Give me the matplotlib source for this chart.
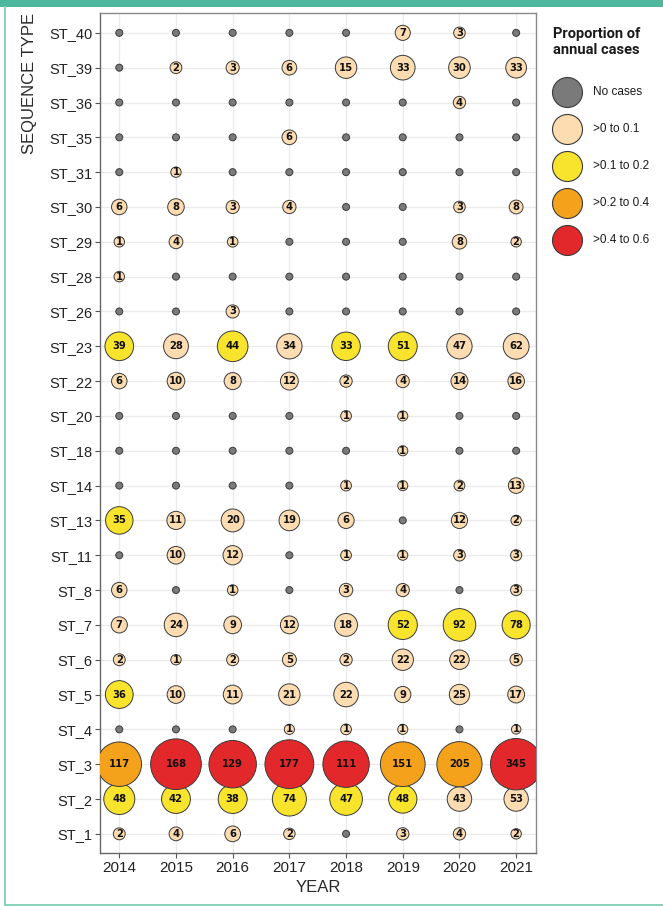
import numpy as np
import matplotlib
matplotlib.use("Agg")
import matplotlib.pyplot as plt

years = [2014, 2015, 2016, 2017, 2018, 2019, 2020, 2021]
seq_types = ["ST_40", "ST_39", "ST_36", "ST_35", "ST_31", "ST_30", "ST_29", "ST_28",
             "ST_26", "ST_23", "ST_22", "ST_20", "ST_18", "ST_14", "ST_13", "ST_11",
             "ST_8", "ST_7", "ST_6", "ST_5", "ST_4", "ST_3", "ST_2", "ST_1"]

# cases per sequence type (rows) and year (columns)
counts = [
    [0, 0, 0, 0, 0, 7, 3, 0],
    [0, 2, 3, 6, 15, 33, 30, 33],
    [0, 0, 0, 0, 0, 0, 4, 0],
    [0, 0, 0, 6, 0, 0, 0, 0],
    [0, 1, 0, 0, 0, 0, 0, 0],
    [6, 8, 3, 4, 0, 0, 3, 8],
    [1, 4, 1, 0, 0, 0, 8, 2],
    [1, 0, 0, 0, 0, 0, 0, 0],
    [0, 0, 3, 0, 0, 0, 0, 0],
    [39, 28, 44, 34, 33, 51, 47, 62],
    [6, 10, 8, 12, 2, 4, 14, 16],
    [0, 0, 0, 0, 1, 1, 0, 0],
    [0, 0, 0, 0, 0, 1, 0, 0],
    [0, 0, 0, 0, 1, 1, 2, 13],
    [35, 11, 20, 19, 6, 0, 12, 2],
    [0, 10, 12, 0, 1, 1, 3, 3],
    [6, 0, 1, 0, 3, 4, 0, 3],
    [7, 24, 9, 12, 18, 52, 92, 78],
    [2, 1, 2, 5, 2, 22, 22, 5],
    [36, 10, 11, 21, 22, 9, 25, 17],
    [0, 0, 0, 1, 1, 1, 0, 1],
    [117, 168, 129, 177, 111, 151, 205, 345],
    [48, 42, 38, 74, 47, 48, 43, 53],
    [2, 4, 6, 2, 0, 3, 4, 2],
]

# annual totals (column sums, 2017 slightly higher: a few cases outside listed STs, estimated)
annual_totals = [306, 323, 290, 372, 263, 389, 517, 643]

class_labels = ["No cases", ">0 to 0.1", ">0.1 to 0.2", ">0.2 to 0.4", ">0.4 to 0.6"]
class_edges = [0, 0.1, 0.2, 0.4]
class_colors = ["#7a7a7a", "#fcdcb0", "#f8e42c", "#f4a21c", "#e2282a"]

W, H = 663, 906
PX = 0.72  # points per pixel at dpi 100


def radius_px(p):
    return 3.5 + 30.3 * np.sqrt(p)


fig = plt.figure(figsize=(W / 100, H / 100), dpi=100)

# background decorations + legend drawn in pixel coordinates
bg = fig.add_axes([0, 0, 1, 1])
bg.set_xlim(0, W)
bg.set_ylim(H, 0)
bg.axis("off")
bg.add_patch(plt.Rectangle((0, 0), W, 7, color="#4db89b", lw=0))
bg.plot([5, 5], [7, 905], color="#86d2bb", lw=1.4)
bg.plot([5, W], [905, 905], color="#86d2bb", lw=1.4)

ax = fig.add_axes([100 / W, 1 - 853 / H, 436 / W, 840 / H])

cnt = np.array(counts, dtype=float)
prop = cnt / np.array(annual_totals, dtype=float)
cls = np.digitize(prop, class_edges, right=True)
n = len(seq_types)

for i in reversed(range(n)):
    y = np.full(len(years), n - 1 - i)
    r = radius_px(prop[i])
    ax.scatter(years, y, s=(2 * r * PX) ** 2, c=[class_colors[k] for k in cls[i]],
               edgecolors="#3a3a3a", linewidths=0.7, zorder=3)

for i in range(n):
    for j, yr in enumerate(years):
        if counts[i][j] > 0:
            ax.text(yr, n - 1 - i, str(counts[i][j]), ha="center", va="center",
                    fontsize=7.2, fontweight="bold", family="DejaVu Sans",
                    color="#111111", zorder=4)

ax.set_xlim(years[0] - 0.34, years[-1] + 0.35)
ax.set_ylim(-0.55, n - 1 + 0.57)
ax.set_xticks(years)
ax.set_xticklabels([str(y) for y in years], fontsize=11, family="Liberation Sans", color="#222222")
ax.set_yticks(range(n))
ax.set_yticklabels(seq_types[::-1], fontsize=10.5, family="Liberation Sans", color="#222222")
ax.tick_params(length=3.5, width=0.8, color="#555555", pad=2)
ax.grid(color="#ebebeb", lw=0.9)
ax.set_axisbelow(True)
for sp in ax.spines.values():
    sp.set_color("#8a8a8a")
    sp.set_linewidth(1.0)
ax.spines["left"].set_color("#666666")
ax.spines["bottom"].set_color("#666666")

narrow = ["Liberation Sans Narrow", "Liberation Sans", "DejaVu Sans"]
fig.text(30 / W, 1 - 13 / H, "SEQUENCE TYPE", rotation=90, ha="center", va="top",
         fontsize=12, family=narrow, color="#2a2a2a")
fig.text(318 / W, 1 - 888 / H, "YEAR", ha="center", va="center",
         fontsize=12, family=narrow, color="#2a2a2a")

# legend
bg.text(553, 42, "Proportion of\nannual cases", ha="left", va="center", fontsize=10.5,
        fontweight="bold", family=["Roboto", "DejaVu Sans"], color="#1a1a1a", linespacing=1.15)
leg_y = [92, 129, 166, 203, 240]
for k, lab in enumerate(class_labels):
    bg.scatter([567], [leg_y[k]], s=(30 * PX) ** 2, c=class_colors[k],
               edgecolors="#3a3a3a", linewidths=0.8)
    bg.text(593, leg_y[k], lab, ha="left", va="center", fontsize=8.5,
            family="Liberation Sans", color="#1a1a1a")

fig.savefig("out.png", dpi=100)
